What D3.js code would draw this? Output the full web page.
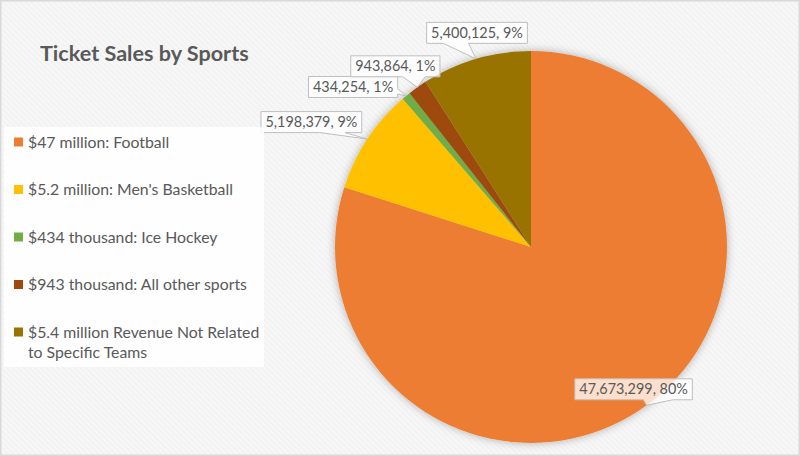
<!DOCTYPE html>
<html>
<head>
<meta charset="utf-8">
<script src="https://cdn.jsdelivr.net/npm/d3@7"></script>
<style>
	body { margin: 0; background: #fff; }
	text { font-family: Lato, "Open Sans", sans-serif; fill: #595959; }
</style>
</head>
<body>
<svg id="vis" width="800" height="456"></svg>
<script>
var categories = ["$47 million: Football", "$5.2 million: Men's Basketball", "$434 thousand: Ice Hockey",
                  "$943 thousand: All other sports", "$5.4 million Revenue Not Related to Specific Teams"];
var values = [47673299, 5198379, 434254, 943864, 5400125];
var percentLabels = ["80%", "9%", "1%", "1%", "9%"];
var colors = ["#ED7D31", "#FFC000", "#70AD47", "#9E480E", "#997300"];

// where each callout box sits relative to its wedge tip (layout only)
var labelOffsets = [[-13, -16], [-56, -17], [-53, -9], [-22, -21], [1, -26]];

var width = 800, height = 456;
var cx = 531, cy = 247, radius = 196;

var svg = d3.select("#vis");
var defs = svg.append("defs");

// faint diagonal texture in the background
var pat = defs.append("pattern")
              .attr("id", "bgTex")
              .attr("width", 4)
              .attr("height", 4)
              .attr("patternUnits", "userSpaceOnUse")
              .attr("patternTransform", "rotate(-45)");
pat.append("rect").attr("width", 4).attr("height", 4).attr("fill", "#f7f7f7");
pat.append("rect").attr("width", 1.2).attr("height", 4).attr("fill", "#f0f0f0");

var shadow = defs.append("filter")
                 .attr("id", "pieShadow")
                 .attr("x", "-20%").attr("y", "-20%")
                 .attr("width", "140%").attr("height", "140%");
shadow.append("feDropShadow")
      .attr("dx", 0)
      .attr("dy", 0)
      .attr("stdDeviation", 4)
      .attr("flood-color", "#000")
      .attr("flood-opacity", 0.3);

svg.append("rect")
   .attr("x", 0.75).attr("y", 0.75)
   .attr("width", width - 1.5).attr("height", height - 1.5)
   .attr("fill", "url(#bgTex)")
   .attr("stroke", "#d9d9d9")
   .attr("stroke-width", 1.5);

// title
svg.append("text")
   .attr("x", 40)
   .attr("y", 61)
   .attr("font-size", 21.6)
   .attr("font-weight", "bold")
   .text("Ticket Sales by Sports");

// pie
var pie = d3.pie().sort(null).value(d => d)(values);
var arc = d3.arc().innerRadius(0).outerRadius(radius);

var g = svg.append("g")
           .attr("transform", "translate(" + cx + "," + cy + ")");

g.append("g")
 .attr("filter", "url(#pieShadow)")
 .selectAll("path")
 .data(pie)
 .enter()
 .append("path")
 .attr("d", arc)
 .attr("fill", (d, i) => colors[i]);

// legend
svg.append("rect")
   .attr("x", 4)
   .attr("y", 127)
   .attr("width", 260)
   .attr("height", 240)
   .attr("fill", "#fff")
   .attr("opacity", 0.85);

var legendY = d3.scaleLinear().domain([0, categories.length - 1]).range([142, 332]);

var legend = svg.selectAll(".legend")
                .data(categories)
                .enter()
                .append("g")
                .attr("class", "legend");

legend.append("rect")
      .attr("x", 14)
      .attr("y", (d, i) => legendY(i) - 4.5)
      .attr("width", 9)
      .attr("height", 9)
      .attr("fill", (d, i) => colors[i]);

legend.append("text")
      .attr("x", 28)
      .attr("y", (d, i) => legendY(i) + 5.5)
      .attr("font-size", 15.8)
      .text(d => d)
      .call(wrap, 236);

// data callouts
var fmt = d3.format(",");
var labelArc = d3.arc().innerRadius(radius).outerRadius(radius);

var callouts = g.selectAll(".callout")
                .data(pie)
                .enter()
                .append("g")
                .attr("class", "callout");

callouts.each(function(d, i) {
	var grp = d3.select(this);
	var tip = labelArc.centroid(d);
	var bx = tip[0] + labelOffsets[i][0],
	    by = tip[1] + labelOffsets[i][1];
	var path = grp.append("path");
	var txt = grp.append("text")
	             .attr("x", bx)
	             .attr("y", by + 5)
	             .attr("text-anchor", "middle")
	             .attr("font-size", 14.4)
	             .text(fmt(d.data) + ", " + percentLabels[i]);
	var w = txt.node().getComputedTextLength() + 9,
	    h = 21;
	path.attr("d", calloutPath(bx - w / 2, by - h / 2, w, h, tip[0], tip[1]))
	    .attr("fill", "#fff")
	    .attr("fill-opacity", 0.75)
	    .attr("stroke", "#bfbfbf")
	    .attr("stroke-width", 1);
});

// rectangle callout with a wedge pointing to (tx, ty)
function calloutPath(x, y, w, h, tx, ty) {
	var dxPos = tx - (x + w / 2),
	    dyPos = ty - (y + h / 2);
	var horiz = Math.abs(dxPos * h) > Math.abs(dyPos * w);
	var x1 = x + w * (dxPos > 0 ? 7 : 2) / 12,
	    x2 = x + w * (dxPos > 0 ? 10 : 5) / 12,
	    y1 = y + h * (dyPos > 0 ? 7 : 2) / 12,
	    y2 = y + h * (dyPos > 0 ? 10 : 5) / 12;
	var p = [[x, y]];
	if (!horiz && dyPos < 0) p.push([x1, y], [tx, ty], [x2, y]);
	p.push([x + w, y]);
	if (horiz && dxPos > 0) p.push([x + w, y1], [tx, ty], [x + w, y2]);
	p.push([x + w, y + h]);
	if (!horiz && dyPos > 0) p.push([x2, y + h], [tx, ty], [x1, y + h]);
	p.push([x, y + h]);
	if (horiz && dxPos < 0) p.push([x, y2], [tx, ty], [x, y1]);
	return "M" + p.join("L") + "Z";
}

function wrap(text, width) {
	text.each(function () {
		var text = d3.select(this),
		    words = text.text().split(" ").reverse(),
		    word,
		    line = [],
		    lineNumber = 0,
		    lineHeight = 1.3, // ems
		    x = text.attr("x"),
		    y = text.attr("y"),
		    tspan = text.text(null)
		                .append("tspan")
		                .attr("x", x)
		                .attr("y", y)
		                .attr("dy", "0em");
		while (word = words.pop()) {
			line.push(word);
			tspan.text(line.join(" "));
			if (tspan.node().getComputedTextLength() > width) {
				line.pop();
				tspan.text(line.join(" "));
				line = [word];
				tspan = text.append("tspan")
				            .attr("x", x)
				            .attr("y", y)
				            .attr("dy", ++lineNumber * lineHeight + "em")
				            .text(word);
			}
		}
	});
}
</script>
</body>
</html>
